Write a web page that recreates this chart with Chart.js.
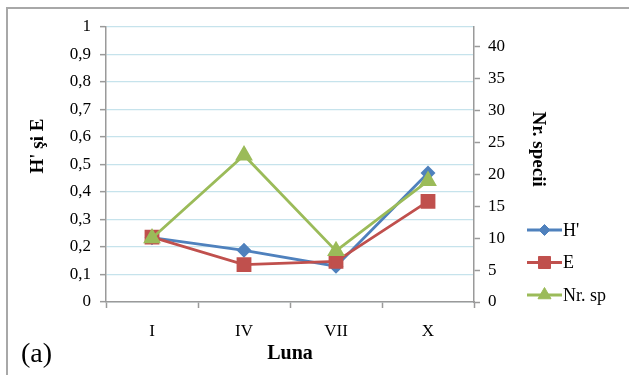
<!DOCTYPE html>
<html>
<head>
<meta charset="utf-8">
<script src="https://cdn.jsdelivr.net/npm/chart.js@4/dist/chart.umd.min.js"></script>
<style>
  html, body { margin: 0; padding: 0; background: #fff; }
  #wrap { width: 629px; height: 375px; position: relative; }
</style>
</head>
<body>
<div id="wrap"><canvas id="c"></canvas></div>
<script>
// Sampling months and the diversity series
const categories = ['I', 'IV', 'VII', 'X'];
const hValues = [0.234, 0.188, 0.13, 0.469];      // Shannon index H'
const eValues = [0.236, 0.136, 0.148, 0.366];     // evenness E
const nrSpValues = [10, 23, 8, 19];               // number of species
const leftTickLabels = ['0', '0,1', '0,2', '0,3', '0,4', '0,5', '0,6', '0,7', '0,8', '0,9', '1'];
const rightTickValues = [0, 5, 10, 15, 20, 25, 30, 35, 40];
const seriesNames = ["H'", 'E', 'Nr. sp'];
const leftTitle = "H' şi E";
const rightTitle = 'Nr. specii';
const bottomTitle = 'Luna';
const panelTag = '(a)';

const FONT = '"Liberation Serif", "Times New Roman", serif';
const AXIS_GRAY = '#9a9a9a';
const GRID_BLUE = '#c6e3ec';
const BLUE = '#4f81bd', RED = '#c0504d', GREEN = '#9bbb59';

// Outer frame of the chart object
const framePlugin = {
  id: 'frame',
  beforeDraw(chart) {
    const ctx = chart.ctx;
    ctx.save();
    ctx.fillStyle = '#fff';
    ctx.fillRect(0, 0, chart.width, chart.height);
    ctx.strokeStyle = '#a8a8a8';
    ctx.lineWidth = 2;
    ctx.strokeRect(7, 8, chart.width + 40, chart.height + 40);
    ctx.restore();
  }
};

// Vertical axis titles, the panel tag and the legend at the right
const decorPlugin = {
  id: 'decor',
  afterDraw(chart) {
    const { ctx, chartArea } = chart;
    const h = chartArea.bottom - chartArea.top;
    ctx.save();
    ctx.fillStyle = '#000';
    ctx.textAlign = 'center';
    ctx.textBaseline = 'middle';
    ctx.font = 'bold 19px ' + FONT;

    ctx.save();
    ctx.translate(chartArea.left - 68, chartArea.top + h * 0.433);
    ctx.rotate(-Math.PI / 2);
    ctx.fillText(leftTitle, 0, 0);
    ctx.restore();

    ctx.save();
    ctx.translate(chartArea.right + 64, chartArea.top + h * 0.444);
    ctx.rotate(Math.PI / 2);
    ctx.fillText(rightTitle, 0, 0);
    ctx.restore();

    ctx.font = '28px ' + FONT;
    ctx.textAlign = 'left';
    ctx.fillText(panelTag, 21, 355);

    // legend entries: line segment with the series marker, then the name
    const x0 = chartArea.right + 53, x1 = chartArea.right + 88;
    chart.data.datasets.forEach((ds, i) => {
      const y = chartArea.bottom - 72 + i * 32.5;
      ctx.strokeStyle = ds.borderColor;
      ctx.lineWidth = ds.borderWidth;
      ctx.beginPath();
      ctx.moveTo(x0, y);
      ctx.lineTo(x1, y);
      ctx.stroke();
      ctx.fillStyle = ds.pointBackgroundColor;
      ctx.strokeStyle = ds.pointBorderColor;
      ctx.lineWidth = 1;
      Chart.helpers.drawPoint(ctx, { pointStyle: ds.pointStyle, radius: ds.pointRadius, borderWidth: 1, rotation: 0 }, (x0 + x1) / 2, y);
      ctx.fillStyle = '#000';
      ctx.font = '18px ' + FONT;
      ctx.textAlign = 'left';
      ctx.fillText(ds.label, x1 + 1, y + 1);
    });
    ctx.restore();
  }
};

new Chart(document.getElementById('c'), {
  type: 'line',
  data: {
    labels: categories,
    datasets: [
      {
        label: seriesNames[0], data: hValues, yAxisID: 'y',
        borderColor: BLUE, backgroundColor: BLUE, borderWidth: 2.8,
        pointStyle: 'rectRot', pointRadius: 5.5, pointHoverRadius: 5.5,
        pointBackgroundColor: BLUE, pointBorderColor: BLUE, order: 3
      },
      {
        label: seriesNames[1], data: eValues, yAxisID: 'y',
        borderColor: RED, backgroundColor: RED, borderWidth: 2.8,
        pointStyle: 'rect', pointRadius: 8.5, pointHoverRadius: 8.5,
        pointBackgroundColor: RED, pointBorderColor: RED, order: 2
      },
      {
        label: seriesNames[2], data: nrSpValues, yAxisID: 'y1',
        borderColor: GREEN, backgroundColor: GREEN, borderWidth: 2.8,
        pointStyle: 'triangle', pointRadius: 7.5, pointHoverRadius: 7.5,
        pointBackgroundColor: GREEN, pointBorderColor: GREEN, order: 1
      }
    ]
  },
  options: {
    responsive: true,
    maintainAspectRatio: false,
    animation: false,
    events: [],
    layout: { padding: { top: 27, left: 0, right: 0, bottom: 0 } },
    plugins: { legend: { display: false }, tooltip: { enabled: false } },
    elements: { line: { tension: 0 } },
    scales: {
      x: {
        offset: true,
        grid: { offset: true, drawOnChartArea: false, drawTicks: true, tickLength: 6, tickColor: AXIS_GRAY, tickWidth: 1.5 },
        border: { color: AXIS_GRAY, width: 1.5 },
        ticks: { color: '#000', font: { family: FONT, size: 17 }, padding: 13, maxRotation: 0 },
        title: { display: true, text: bottomTitle, color: '#000', font: { family: FONT, size: 20, weight: 'bold' }, padding: { top: 0, bottom: 9 } },
        afterFit(scale) { scale.height = 73; }
      },
      y: {
        position: 'left',
        min: 0, max: 1,
        ticks: {
          stepSize: 0.1, color: '#000', font: { family: FONT, size: 17 }, padding: 9,
          callback: (v, i) => leftTickLabels[i]
        },
        grid: { color: GRID_BLUE, lineWidth: 1.3, tickColor: AXIS_GRAY, tickLength: 6, tickWidth: 1.5 },
        border: { color: AXIS_GRAY, width: 1.5 },
        afterFit(scale) { scale.width = 106; }
      },
      y1: {
        position: 'right',
        min: 0, max: 43.1,
        afterBuildTicks(scale) { scale.ticks = rightTickValues.map(v => ({ value: v })); },
        ticks: { color: '#000', font: { family: FONT, size: 17 }, padding: 8, callback: v => String(v) },
        grid: { drawOnChartArea: false, tickColor: AXIS_GRAY, tickLength: 6, tickWidth: 1.5 },
        border: { color: AXIS_GRAY, width: 1.5 },
        afterFit(scale) { scale.width = 155; }
      }
    }
  },
  plugins: [framePlugin, decorPlugin]
});
</script>
</body>
</html>
